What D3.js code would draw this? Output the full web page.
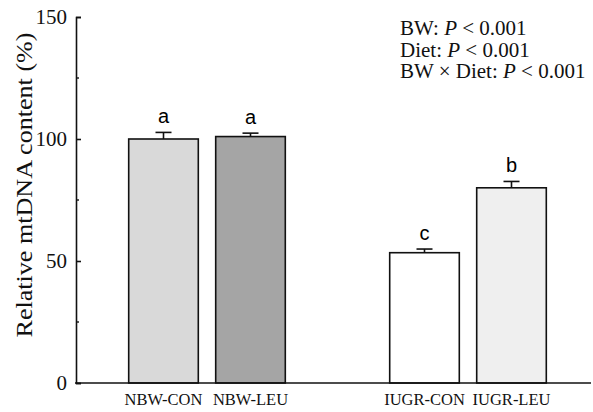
<!DOCTYPE html>
<html>
<head>
<meta charset="utf-8">
<script src="https://cdn.jsdelivr.net/npm/d3@7"></script>
<style>
  body { margin: 0; background: #fff; }
  svg { display: block; }
</style>
</head>
<body>
<div id="chart"></div>
<script>
var groups = ['NBW-CON', 'NBW-LEU', '', 'IUGR-CON', 'IUGR-LEU'];
var means = [100, 101, null, 53.4, 80];
var errors = [2.7, 1.4, null, 1.5, 2.6];
var letters = ['a', 'a', null, 'c', 'b'];
var fills = ['#d9d9d9', '#a5a5a5', null, '#ffffff', '#efefef'];
var yTicks = [0, 50, 100, 150];
var yMinor = [25, 75, 125];
var notes = [
	[{t: 'BW: '}, {t: 'P', i: true}, {t: ' < 0.001'}],
	[{t: 'Diet: '}, {t: 'P', i: true}, {t: ' < 0.001'}],
	[{t: 'BW \u00d7 Diet: '}, {t: 'P', i: true}, {t: ' < 0.001'}]
];

var width = 593, height = 412;
var svg = d3.select('#chart').append('svg')
	.attr('width', width)
	.attr('height', height);

var x = d3.scaleBand()
	.domain(groups)
	.range([120, 555])
	.paddingInner(0.2)
	.paddingOuter(0.1);

var y = d3.scaleLinear()
	.domain([0, 150])
	.range([383, 17]);

var serif = '"Liberation Serif", "Times New Roman", serif';
var sans = '"Liberation Sans", Arial, sans-serif';

var data = groups.map(function(g, i){
	return {name: g, mean: means[i], err: errors[i], letter: letters[i], fill: fills[i]};
}).filter(function(d){ return d.mean != null; });

// bars
svg.selectAll('rect.bar')
	.data(data)
	.enter()
	.append('rect')
	.attr('class', 'bar')
	.attr('x', function(d){ return x(d.name); })
	.attr('y', function(d){ return y(d.mean); })
	.attr('width', x.bandwidth())
	.attr('height', function(d){ return y(0) - y(d.mean); })
	.attr('fill', function(d){ return d.fill; })
	.attr('stroke', '#111')
	.attr('stroke-width', 1.6);

// error bars (upper only)
var eb = svg.selectAll('g.err')
	.data(data)
	.enter()
	.append('g')
	.attr('class', 'err')
	.attr('stroke', '#111')
	.attr('stroke-width', 1.6);
eb.append('line')
	.attr('x1', function(d){ return x(d.name) + x.bandwidth()/2; })
	.attr('x2', function(d){ return x(d.name) + x.bandwidth()/2; })
	.attr('y1', function(d){ return y(d.mean); })
	.attr('y2', function(d){ return y(d.mean + d.err); });
eb.append('line')
	.attr('x1', function(d){ return x(d.name) + x.bandwidth()/2 - 8; })
	.attr('x2', function(d){ return x(d.name) + x.bandwidth()/2 + 8; })
	.attr('y1', function(d){ return y(d.mean + d.err); })
	.attr('y2', function(d){ return y(d.mean + d.err); });

// significance letters
svg.selectAll('text.letter')
	.data(data)
	.enter()
	.append('text')
	.attr('class', 'letter')
	.attr('x', function(d){ return x(d.name) + x.bandwidth()/2; })
	.attr('y', function(d){ return y(d.mean + d.err) - 9.5; })
	.attr('text-anchor', 'middle')
	.style('font-family', sans)
	.style('font-size', '20px')
	.text(function(d){ return d.letter; });

// y axis
var yAxis = svg.append('g')
	.attr('transform', 'translate(76,0)')
	.call(d3.axisLeft(y).tickValues(yTicks).tickSize(-5).tickPadding(9));
yAxis.select('.domain').attr('stroke', '#111').attr('stroke-width', 1.6);
yAxis.selectAll('.tick line').attr('stroke', '#111').attr('stroke-width', 1.6);
yAxis.selectAll('.tick text')
	.style('font-family', serif)
	.style('font-size', '21px')
	.attr('fill', '#111');
yAxis.selectAll('line.minor')
	.data(yMinor)
	.enter()
	.append('line')
	.attr('class', 'minor')
	.attr('x1', 0)
	.attr('x2', 3)
	.attr('y1', function(d){ return y(d); })
	.attr('y2', function(d){ return y(d); })
	.attr('stroke', '#111')
	.attr('stroke-width', 1.4);

// x axis
svg.append('line')
	.attr('x1', 75)
	.attr('x2', 591)
	.attr('y1', y(0))
	.attr('y2', y(0))
	.attr('stroke', '#111')
	.attr('stroke-width', 1.6);
svg.selectAll('text.xlab')
	.data(data)
	.enter()
	.append('text')
	.attr('class', 'xlab')
	.attr('x', function(d){ return x(d.name) + x.bandwidth()/2; })
	.attr('y', 405)
	.attr('text-anchor', 'middle')
	.style('font-family', serif)
	.style('font-size', '16.5px')
	.attr('fill', '#111')
	.text(function(d){ return d.name; });

// y label
svg.append('text')
	.attr('transform', 'translate(32,185) rotate(-90)')
	.attr('text-anchor', 'middle')
	.attr('textLength', 305)
	.attr('lengthAdjust', 'spacingAndGlyphs')
	.style('font-family', serif)
	.style('font-size', '23px')
	.attr('fill', '#111')
	.text('Relative mtDNA content (%)');

// statistics note
var note = svg.append('g')
	.style('font-family', serif)
	.style('font-size', '21px')
	.attr('fill', '#111');
notes.forEach(function(line, i){
	var t = note.append('text')
		.attr('x', 400)
		.attr('y', 35 + i*21.5);
	line.forEach(function(seg){
		t.append('tspan')
			.style('font-style', seg.i ? 'italic' : 'normal')
			.text(seg.t);
	});
});
</script>
</body>
</html>
